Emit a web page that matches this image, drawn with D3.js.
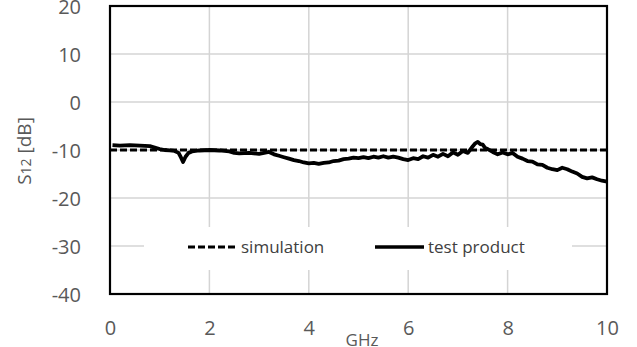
<!DOCTYPE html>
<html><head><meta charset="utf-8">
<script src="https://cdn.jsdelivr.net/npm/d3@7"></script>
<style>html,body{margin:0;padding:0;background:#fff;}svg{display:block;}</style>
</head><body>
<svg id="chart" width="637" height="347"></svg>
<script>
const xTicks = [0, 2, 4, 6, 8, 10];
const yTicks = [20, 10, 0, -10, -20, -30, -40];
const seriesNames = ["simulation", "test product"];
const simFreq = [0, 10];
const simValues = [-10, -10];
const testFreq = [0.05,0.2,0.4,0.6,0.8,0.9,1.0,1.1,1.2,1.3,1.38,1.43,1.47,1.52,1.58,1.65,1.8,2.0,2.2,2.4,2.5,2.6,2.8,3.0,3.1,3.2,3.3,3.4,3.5,3.6,3.7,3.8,3.9,4.0,4.1,4.2,4.3,4.4,4.5,4.6,4.7,4.8,4.9,5.0,
5.1,5.2,5.3,5.4,5.5,5.6,5.7,5.8,5.9,6.0,6.1,6.2,6.3,6.4,6.5,6.6,6.7,6.8,6.9,7.0,7.1,7.2,7.3,7.35,7.4,7.45,7.5,7.55,7.6,7.7,7.8,7.9,8.0,8.1,8.2,8.3,8.4,8.5,8.6,8.7,8.8,8.9,9.0,9.1,9.2,9.3,9.4,9.5,9.6,9.7,9.8,9.9,10.0];
const testValues = [-9.0,-9.1,-9.0,-9.1,-9.2,-9.5,-9.8,-10.0,-10.1,-10.2,-10.6,-11.6,-12.5,-11.4,-10.6,-10.3,-10.1,-10.0,-10.1,-10.3,-10.6,-10.7,-10.6,-10.8,-10.6,-10.4,-10.9,-11.2,-11.5,-11.8,-12.1,-12.3,-12.6,-12.8,-12.7,-12.9,-12.7,-12.6,-12.3,-12.2,-11.9,-11.8,-11.6,-11.7,
-11.5,-11.7,-11.4,-11.6,-11.3,-11.6,-11.4,-11.6,-11.9,-12.1,-11.7,-11.9,-11.3,-11.6,-11.0,-11.4,-10.8,-11.3,-10.5,-11.0,-10.2,-10.6,-9.2,-8.6,-8.3,-8.8,-8.9,-9.6,-9.8,-10.4,-10.9,-10.5,-10.9,-10.6,-11.4,-11.8,-12.3,-12.4,-13.0,-13.1,-13.7,-14.0,-14.2,-13.7,-14.0,-14.5,-14.9,-15.6,-15.9,-15.7,-16.1,-16.4,-16.6];

const svg = d3.select("#chart");
const L = 110, R = 607, T = 6, B = 294;
const x = d3.scaleLinear().domain([0, 10]).range([L, R]);
const y = d3.scaleLinear().domain([-40, 20]).range([B, T]);
const font = "'Open Sans', Lato, sans-serif";
const tickColor = "#595959";

// gridlines
const grid = svg.append("g");
grid.selectAll("line.v").data(xTicks.filter(d => d > 0 && d < 10)).join("line")
  .attr("x1", d => x(d)).attr("x2", d => x(d)).attr("y1", T).attr("y2", B)
  .attr("stroke", "#d4d4d4").attr("stroke-width", 1.5);
grid.selectAll("line.h").data(yTicks.filter(d => d < 20 && d > -40)).join("line")
  .attr("x1", L).attr("x2", R).attr("y1", d => y(d)).attr("y2", d => y(d))
  .attr("stroke", "#d4d4d4").attr("stroke-width", 1.5);

// legend background (covers gridlines)
svg.append("rect").attr("x", 144).attr("y", 227).attr("width", 428).attr("height", 43).attr("fill", "#fff");

// lines
const line = d3.line().x(d => x(d[0])).y(d => y(d[1]));
svg.append("path").datum(simFreq.map((f, i) => [f, simValues[i]]))
  .attr("d", line).attr("fill", "none").attr("stroke", "#000").attr("stroke-width", 3).attr("stroke-dasharray", "7,3");
svg.append("path").datum(testFreq.map((f, i) => [f, testValues[i]]))
  .attr("d", line).attr("fill", "none").attr("stroke", "#000").attr("stroke-width", 3.8).attr("stroke-linejoin", "round");

// frame
svg.append("rect").attr("x", L).attr("y", T).attr("width", R - L).attr("height", B - T)
  .attr("fill", "none").attr("stroke", "#000").attr("stroke-width", 2.2);

// axes (text only)
const fmt = d => String(d);
const xAxis = d3.axisBottom(x).tickValues(xTicks).tickFormat(fmt).tickSize(0).tickPadding(0);
const gx = svg.append("g").attr("transform", `translate(0,${B + 27})`).call(xAxis);
gx.select(".domain").remove();
gx.selectAll("text").attr("font-family", font).attr("font-size", 20).attr("fill", tickColor).attr("dy", "0.71em");

const yAxis = d3.axisLeft(y).tickValues(yTicks).tickFormat(fmt).tickSize(0).tickPadding(0);
const gy = svg.append("g").attr("transform", `translate(81,0)`).call(yAxis);
gy.select(".domain").remove();
gy.selectAll("text").attr("font-family", font).attr("font-size", 20).attr("fill", tickColor).attr("dy", "0.35em");

// axis titles
svg.append("text").attr("x", 362).attr("y", 346).attr("text-anchor", "middle")
  .attr("font-family", font).attr("font-size", 17).attr("fill", tickColor).text("GHz");
const yt = svg.append("text").attr("transform", "translate(31,151) rotate(-90)").attr("text-anchor", "middle")
  .attr("font-family", font).attr("font-size", 19).attr("fill", tickColor);
yt.append("tspan").text("S");
yt.append("tspan").attr("font-size", 14).text("12");
yt.append("tspan").text(" [dB]");

// legend
const ly = y(-30) + 1;
svg.append("line").attr("x1", 188).attr("x2", 237).attr("y1", ly).attr("y2", ly)
  .attr("stroke", "#000").attr("stroke-width", 3).attr("stroke-dasharray", "7,3");
svg.append("text").attr("x", 241).attr("y", ly).attr("dy", "0.35em").attr("font-family", font)
  .attr("font-size", 17).attr("fill", "#404040").text(seriesNames[0]);
svg.append("line").attr("x1", 375).attr("x2", 424).attr("y1", ly).attr("y2", ly)
  .attr("stroke", "#000").attr("stroke-width", 3.4);
svg.append("text").attr("x", 428).attr("y", ly).attr("dy", "0.35em").attr("font-family", font)
  .attr("font-size", 17).attr("fill", "#404040").text(seriesNames[1]);
</script>
</body></html>
